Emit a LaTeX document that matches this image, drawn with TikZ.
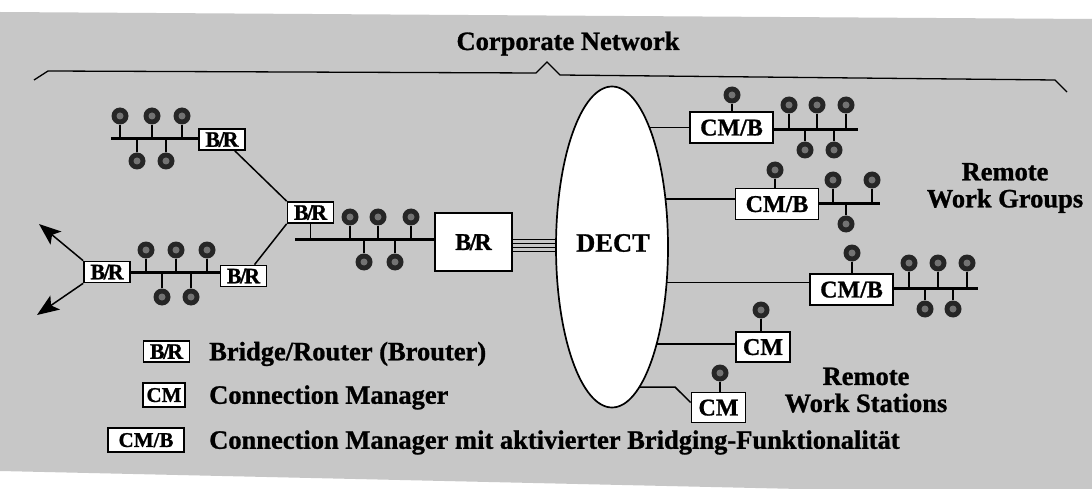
\documentclass[tikz,border=0pt]{standalone}
\usepackage{fontspec}
\setmainfont{Liberation Serif}[BoldFeatures={FakeBold=1}]
\usetikzlibrary{arrows.meta,shapes.geometric,calc}
\definecolor{paper}{gray}{0.78}
\newcommand\BR{B\kern-1.5pt/\kern-2pt R}
\tikzset{
  lbl/.style={font=\bfseries\fontsize{26.5}{27}\selectfont, inner sep=0pt},
  box/.style={draw, line width=1.7pt, fill=white, inner sep=0pt,
    text height=15.9pt, text depth=0pt, font=\bfseries\fontsize{24}{25}\selectfont},
  brbox/.style={box, minimum width=46pt, minimum height=21pt,
    font=\bfseries\fontsize{22}{22}\selectfont, text height=14.5pt},
  lgbox/.style={box, minimum height=24pt,
    font=\bfseries\fontsize{21}{21}\selectfont, text height=13.9pt},
  cmbbox/.style={box, minimum width=83pt, minimum height=31pt},
  cmbox/.style={box, minimum width=54pt, minimum height=30pt},
  pc/.style={circle, fill=black!85, minimum size=17pt, inner sep=0pt,
    path picture={\fill[black!55] (path picture bounding box.center) circle[radius=3.5pt];}},
  stem/.style={line width=1.4pt},
  bus/.style={line width=3pt},
  wire/.style={line width=1.5pt},
  tip/.style={-{Stealth[length=22pt,width=17pt,inset=5pt]}},
}
\begin{document}
\begin{tikzpicture}[x=1pt,y=-1pt]
\useasboundingbox (0,0) rectangle (1092,489);
\fill[white] (0,0) rectangle (1092,489);
\fill[paper] (0,12) -- (1092,19) -- (1092,489) -- (800,489) -- (0,471) -- cycle;

% heading and the brace spanning the whole network
\node[lbl, anchor=base] (title) at (568,50) {Corporate Network};
\coordinate (braceL) at (34,80);
\coordinate (braceR) at (1067,92);
\draw[line width=1.3pt] (braceL) -- (48,71) -- (536,73) -- (547,62) -- (560,75) -- (1055,80) -- (braceR);

% ---- upper left LAN ----
\node[brbox] (brA) at (222,139.5) {\BR};
\coordinate (aL) at (111,139);
\draw[bus] (aL) -- (aL -| brA.west);
\node[pc] (a1) at (120,116) {};
\node[pc] (a2) at (152,116) {};
\node[pc] (a3) at (182,116) {};
\node[pc] (a4) at (137,161) {};
\node[pc] (a5) at (166,161) {};
\foreach \n in {a1,a2,a3} \draw[stem] (\n.south) -- (\n.south |- aL);
\foreach \n in {a4,a5} \draw[stem] (\n.north) -- (\n.north |- aL);

% ---- central LAN with the main brouter ----
\node[brbox] (mbr) at (310.5,212.5) {\BR};
\node[box, minimum width=77pt, minimum height=58pt] (bigbr) at (473.5,242) {\BR};
\coordinate (mL) at (295,239);
\draw[bus] (mL) -- (mL -| bigbr.west);
\draw[stem] (mbr.south) -- (mbr.south |- mL);
\node[pc] (m1) at (350,217) {};
\node[pc] (m2) at (378,217) {};
\node[pc] (m3) at (411,217) {};
\node[pc] (m4) at (364,262) {};
\node[pc] (m5) at (395,262) {};
\foreach \n in {m1,m2,m3} \draw[stem] (\n.south) -- (\n.south |- mL);
\foreach \n in {m4,m5} \draw[stem] (\n.north) -- (\n.north |- mL);

% ---- lower left LAN ----
\node[brbox] (lbr) at (107,272) {\BR};
\node[brbox] (rbr) at (243.5,276) {\BR};
\draw[bus] (lbr.east) -- (lbr.east -| rbr.west);
\node[pc] (l1) at (146,250) {};
\node[pc] (l2) at (176,250) {};
\node[pc] (l3) at (207,250) {};
\node[pc] (l4) at (162,297) {};
\node[pc] (l5) at (191,297) {};
\foreach \n in {l1,l2,l3} \draw[stem] (\n.south) -- (\n.south |- lbr.east);
\foreach \n in {l4,l5} \draw[stem] (\n.north) -- (\n.north |- lbr.east);

% links between the brouters
\draw[wire] ($(brA.south east)+(-11,0)$) -- (mbr.north west);
\draw[wire] (mbr.south west) -- ($(rbr.north)+(11,0)$);
\coordinate (out1) at (39,224);
\coordinate (out2) at (37,315);
\draw[wire, tip] (lbr.north west) -- (out1);
\draw[wire, tip] (lbr.south west) -- (out2);

% ---- remote side ----
\coordinate (dc) at (612,247);
\node[cmbbox] (cmb1) at (731.5,127.5) {CM/B};
\node[cmbbox] (cmb2) at (777,204) {CM/B};
\node[cmbbox] (cmb3) at (851.5,289.5) {CM/B};
\node[cmbox] (cm1) at (763,347) {CM};
\node[cmbox] (cm2) at (718.5,407.5) {CM};

% trunk from the main brouter into DECT
\foreach \d [count=\i] in {-2.5,1.5,5.5,9.5} {
  \coordinate (q\i) at ($(bigbr.east)+(0,\d)$);
  \draw[wire] (q\i) -- (q\i -| dc);
}
% radio links from DECT to the connection managers
\coordinate (e1) at (cmb1.west);
\coordinate (e2) at ($(cmb2.west)+(0,-5)$);
\coordinate (e3) at ($(cmb3.west)+(0,-7)$);
\coordinate (e4) at ($(cm1.west)+(0,-3)$);
\foreach \e in {e1,e2,e3,e4} \draw[wire] (\e) -- (\e -| dc);
\coordinate (e5) at ($(cm2.west)+(0,-5)$);
\coordinate (bend) at (675,387);
\draw[wire] (e5) -- (bend) -- (bend -| dc);

\node[ellipse, draw, line width=1.7pt, fill=white, minimum width=112pt, minimum height=321pt, inner sep=0pt] (dect) at (dc) {};
\node[lbl] (dectlbl) at (613,243) {DECT};

% remote work group 1
\coordinate (b1R) at (858,130);
\draw[bus] (cmb1.east |- b1R) -- (b1R);
\node[pc] (b0) at (732,95) {};
\node[pc] (b1) at (789,105) {};
\node[pc] (b2) at (817,105) {};
\node[pc] (b3) at (846,105) {};
\node[pc] (b4) at (805,150) {};
\node[pc] (b5) at (834,150) {};
\draw[stem] (b0.south) -- (b0.south |- cmb1.north);
\foreach \n in {b1,b2,b3} \draw[stem] (\n.south) -- (\n.south |- b1R);
\foreach \n in {b4,b5} \draw[stem] (\n.north) -- (\n.north |- b1R);

% remote work group 2
\coordinate (c1R) at (880,204);
\draw[bus] (cmb2.east |- c1R) -- (c1R);
\node[pc] (c0) at (775,170) {};
\node[pc] (c1) at (833,180) {};
\node[pc] (c2) at (872,180) {};
\node[pc] (c3) at (846,224) {};
\draw[stem] (c0.south) -- (c0.south |- cmb2.north);
\foreach \n in {c1,c2} \draw[stem] (\n.south) -- (\n.south |- c1R);
\draw[stem] (c3.north) -- (c3.north |- c1R);

% remote work group 3
\coordinate (d1R) at (978,288);
\draw[bus] (cmb3.east |- d1R) -- (d1R);
\node[pc] (d0) at (852,253) {};
\node[pc] (d1) at (909,263) {};
\node[pc] (d2) at (938,263) {};
\node[pc] (d3) at (967,263) {};
\node[pc] (d4) at (925,309) {};
\node[pc] (d5) at (953,309) {};
\draw[stem] (d0.south) -- (d0.south |- cmb3.north);
\foreach \n in {d1,d2,d3} \draw[stem] (\n.south) -- (\n.south |- d1R);
\foreach \n in {d4,d5} \draw[stem] (\n.north) -- (\n.north |- d1R);

% single remote work stations
\node[pc] (g0) at (761,310) {};
\node[pc] (h0) at (720,373) {};
\draw[stem] (g0.south) -- (g0.south |- cm1.north);
\draw[stem] (h0.south) -- (h0.south |- cm2.north);

\node[lbl, align=center] (rwg) at (1005,188) {Remote\\Work Groups};
\node[lbl, align=center] (rws) at (866,390) {Remote\\Work Stations};

% ---- legend ----
\node[brbox] (lg1) at (166.5,351.5) {\BR};
\node[lgbox, minimum width=42pt] (lg2) at (164,395) {CM};
\node[lgbox, minimum width=76pt] (lg3) at (146,440) {CM/B};
\node[lbl, anchor=west, text height=17.5pt, text depth=0pt] (lt1) at (209,351.5) {Bridge/Router (Brouter)};
\node[lbl, anchor=west, text height=17.5pt, text depth=0pt] (lt2) at (209,395) {Connection Manager};
\node[lbl, anchor=west, text height=17.5pt, text depth=0pt] (lt3) at (209,440) {Connection Manager mit aktivierter Bridging-Funktionalität};
\end{tikzpicture}
\end{document}
